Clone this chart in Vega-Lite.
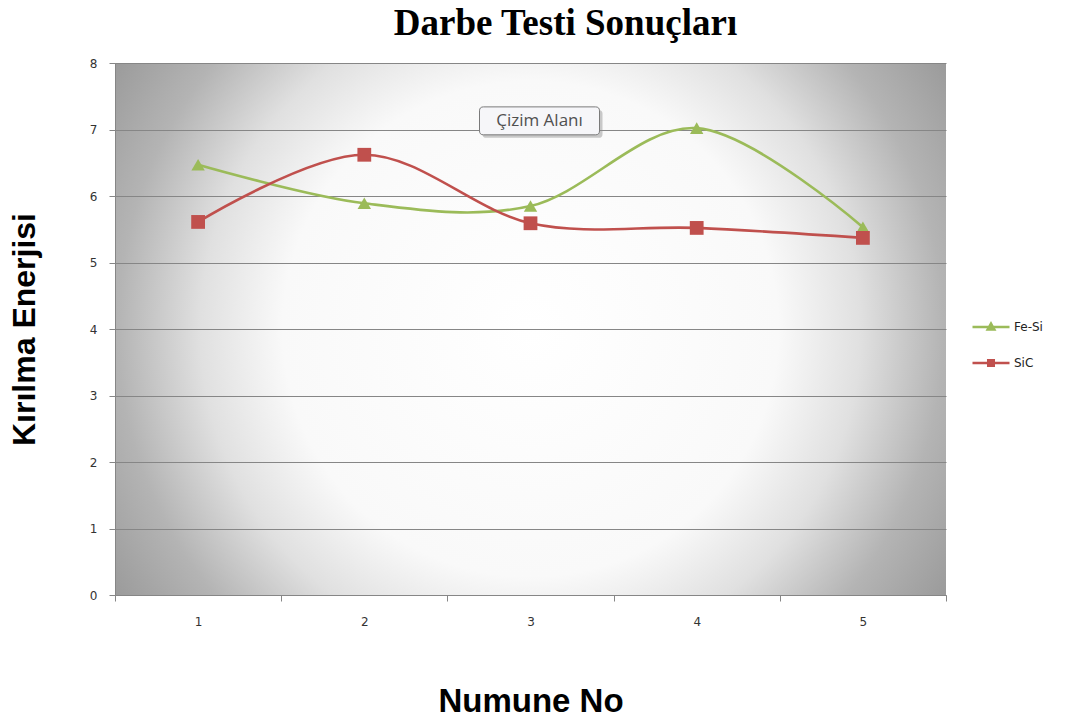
{
  "$schema": "https://vega.github.io/schema/vega-lite/v6.json",
  "width": 831,
  "height": 532,
  "autosize": {"type": "pad"},
  "padding": {"left": 8, "top": 5, "right": 0, "bottom": 0},
  "background": "white",
  "title": {
    "text": "Darbe Testi Sonuçları",
    "font": "Liberation Serif",
    "fontSize": 37,
    "fontWeight": "bold",
    "color": "#000000",
    "anchor": "middle",
    "frame": "group",
    "offset": 14,
    "dx": 35
  },
  "view": {
    "stroke": null,
    "fill": {
      "gradient": "radial",
      "x1": 0.5, "y1": 0.5, "r1": 0,
      "x2": 0.5, "y2": 0.5, "r2": 0.71,
      "stops": [
        {"offset": 0, "color": "#ffffff"},
        {"offset": 0.42, "color": "#f9f9f9"},
        {"offset": 0.56, "color": "#e0e0e0"},
        {"offset": 0.7, "color": "#b4b4b4"},
        {"offset": 1, "color": "#7c7c7c"}
      ]
    }
  },
  "datasets": {
    "olcum": [
      {"No": "1", "Seri": "Fe-Si", "Enerji": 6.47},
      {"No": "2", "Seri": "Fe-Si", "Enerji": 5.89},
      {"No": "3", "Seri": "Fe-Si", "Enerji": 5.85},
      {"No": "4", "Seri": "Fe-Si", "Enerji": 7.02},
      {"No": "5", "Seri": "Fe-Si", "Enerji": 5.53},
      {"No": "1", "Seri": "SiC", "Enerji": 5.61},
      {"No": "2", "Seri": "SiC", "Enerji": 6.62},
      {"No": "3", "Seri": "SiC", "Enerji": 5.59},
      {"No": "4", "Seri": "SiC", "Enerji": 5.52},
      {"No": "5", "Seri": "SiC", "Enerji": 5.37}
    ],
    "etiket": [
      {"No": "3", "Enerji": 7.13, "Metin": "Çizim Alanı"}
    ]
  },
  "layer": [
    {
      "data": {"name": "olcum"},
      "mark": {"type": "line", "interpolate": "cardinal", "strokeWidth": 2.6},
      "encoding": {
        "x": {
          "field": "No", "type": "ordinal",
          "scale": {"type": "band", "paddingInner": 0, "paddingOuter": 0},
          "axis": {
            "title": "Numune No",
            "titleFont": "Liberation Sans", "titleFontSize": 33, "titleFontWeight": "bold", "titleColor": "#000000",
            "titlePadding": 58,
            "labelAngle": 0, "labelFont": "DejaVu Sans", "labelFontSize": 12, "labelColor": "#333333", "labelPadding": 15,
            "tickBand": "extent", "tickSize": 6, "tickColor": "#868686",
            "domainColor": "#868686", "grid": false
          }
        },
        "y": {
          "field": "Enerji", "type": "quantitative",
          "scale": {"domain": [0, 8], "nice": false},
          "axis": {
            "title": "Kırılma Enerjisi",
            "titleFont": "Liberation Sans", "titleFontSize": 32, "titleFontWeight": "bold", "titleColor": "#000000",
            "titlePadding": 48,
            "values": [0, 1, 2, 3, 4, 5, 6, 7, 8],
            "format": "d",
            "labelFont": "DejaVu Sans", "labelFontSize": 12, "labelColor": "#333333", "labelPadding": 12,
            "tickSize": 6, "tickColor": "#868686",
            "domainColor": "#868686",
            "grid": true, "gridColor": "#868686", "gridWidth": 1
          }
        },
        "color": {
          "field": "Seri", "type": "nominal",
          "scale": {"domain": ["Fe-Si", "SiC"], "range": ["#9bbb59", "#c0504d"]},
          "legend": {
            "title": null,
            "orient": "none",
            "legendX": 856,
            "legendY": 244,
            "symbolSize": 1369,
            "rowPadding": 8,
            "labelFont": "DejaVu Sans",
            "labelFontSize": 12,
            "labelColor": "#222222",
            "labelOffset": 3,
            "encode": {
              "symbols": {
                "update": {
                  "shape": {"signal": "datum.value === 'Fe-Si' ? 'M-1,0L1,0M0,-0.18L0.18,0.14L-0.18,0.14Z' : 'M-1,0L1,0M-0.15,-0.15L0.15,-0.15L0.15,0.15L-0.15,0.15Z'"},
                  "fill": {"signal": "scale('color', datum.value)"},
                  "stroke": {"signal": "scale('color', datum.value)"},
                  "strokeWidth": {"value": 2.5},
                  "opacity": {"value": 1},
                  "fillOpacity": {"value": 1}
                }
              }
            }
          }
        }
      }
    },
    {
      "data": {"name": "olcum"},
      "transform": [{"filter": "datum.Seri === 'Fe-Si'"}],
      "mark": {"type": "point", "filled": true, "opacity": 1, "shape": "triangle-up", "size": 180},
      "encoding": {
        "x": {"field": "No", "type": "ordinal"},
        "y": {"field": "Enerji", "type": "quantitative"},
        "color": {"field": "Seri", "type": "nominal"}
      }
    },
    {
      "data": {"name": "olcum"},
      "transform": [{"filter": "datum.Seri === 'SiC'"}],
      "mark": {"type": "point", "filled": true, "opacity": 1, "shape": "square", "size": 190},
      "encoding": {
        "x": {"field": "No", "type": "ordinal"},
        "y": {"field": "Enerji", "type": "quantitative"},
        "color": {"field": "Seri", "type": "nominal"}
      }
    },
    {
      "data": {"name": "etiket"},
      "mark": {
        "type": "point", "filled": true, "xOffset": 12, "yOffset": 3, "size": 14400,
        "shape": "M-0.933,-0.233L0.933,-0.233Q1,-0.233 1,-0.167L1,0.167Q1,0.233 0.933,0.233L-0.933,0.233Q-1,0.233 -1,0.167L-1,-0.167Q-1,-0.233 -0.933,-0.233Z",
        "color": "#8c8c8c", "opacity": 0.45
      },
      "encoding": {
        "x": {"field": "No", "type": "ordinal"},
        "y": {"field": "Enerji", "type": "quantitative"}
      }
    },
    {
      "data": {"name": "etiket"},
      "mark": {
        "type": "point", "filled": true, "xOffset": 9, "size": 14400,
        "shape": "M-0.933,-0.233L0.933,-0.233Q1,-0.233 1,-0.167L1,0.167Q1,0.233 0.933,0.233L-0.933,0.233Q-1,0.233 -1,0.167L-1,-0.167Q-1,-0.233 -0.933,-0.233Z",
        "fill": "#f6f6f9",
        "stroke": "#7a7a7a", "strokeWidth": 1, "opacity": 1, "fillOpacity": 1
      },
      "encoding": {
        "x": {"field": "No", "type": "ordinal"},
        "y": {"field": "Enerji", "type": "quantitative"}
      }
    },
    {
      "data": {"name": "etiket"},
      "mark": {
        "type": "text", "xOffset": 9, "font": "Open Sans", "fontSize": 17, "color": "#505050",
        "align": "center", "baseline": "middle"
      },
      "encoding": {
        "x": {"field": "No", "type": "ordinal"},
        "y": {"field": "Enerji", "type": "quantitative"},
        "text": {"field": "Metin", "type": "nominal"}
      }
    }
  ]
}
